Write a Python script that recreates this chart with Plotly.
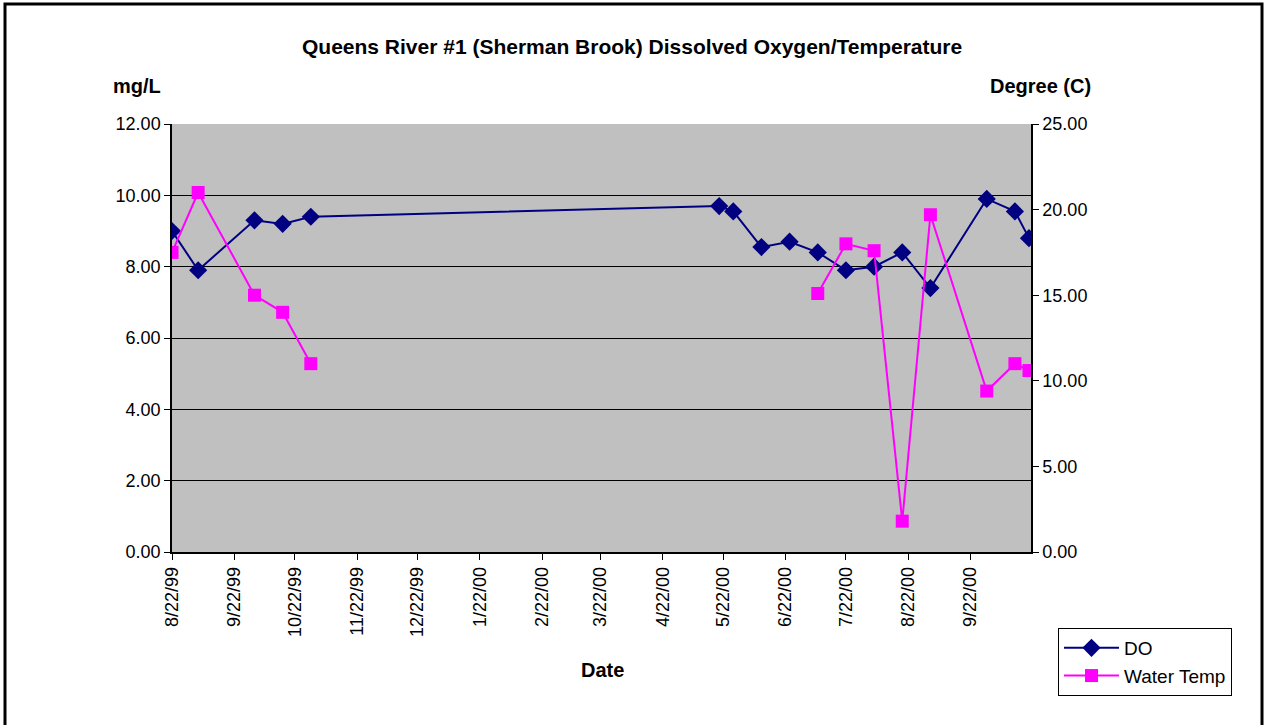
import plotly.graph_objects as go

dates = ["1999-08-22", "1999-09-04", "1999-10-02", "1999-10-16", "1999-10-30",
         "2000-05-20", "2000-05-27", "2000-06-10", "2000-06-24", "2000-07-08",
         "2000-07-22", "2000-08-05", "2000-08-19", "2000-09-02", "2000-09-30",
         "2000-10-14", "2000-10-21"]
do_vals = [9.0, 7.9, 9.3, 9.2, 9.4, 9.7, 9.55, 8.55, 8.7, 8.4, 7.9, 8.0, 8.4, 7.4, 9.9, 9.55, 8.8]
temp_vals = [17.5, 21.0, 15.0, 14.0, 11.0, None, None, None, None, 15.1, 18.0, 17.6, 1.8, 19.7, 9.4, 11.0, 10.6]

tick_dates = ["1999-08-22", "1999-09-22", "1999-10-22", "1999-11-22", "1999-12-22",
              "2000-01-22", "2000-02-22", "2000-03-22", "2000-04-22", "2000-05-22",
              "2000-06-22", "2000-07-22", "2000-08-22", "2000-09-22"]
tick_labels = ["8/22/99", "9/22/99", "10/22/99", "11/22/99", "12/22/99", "1/22/00",
               "2/22/00", "3/22/00", "4/22/00", "5/22/00", "6/22/00", "7/22/00",
               "8/22/00", "9/22/00"]

FONT = "Arial, Liberation Sans, sans-serif"
TICK = 18
BOLD = 20

fig = go.Figure()
fig.add_trace(go.Scatter(
    x=dates, y=do_vals, name="DO", mode="lines+markers",
    line=dict(color="#000080", width=2),
    marker=dict(symbol="diamond", size=14, color="#000080"),
    connectgaps=False,
))
fig.add_trace(go.Scatter(
    x=dates, y=temp_vals, name="Water Temp", mode="lines+markers", yaxis="y2",
    line=dict(color="#FF00FF", width=2),
    marker=dict(symbol="square", size=13, color="#FF00FF"),
    connectgaps=False,
))

fig.update_layout(
    width=1266, height=725,
    margin=dict(l=172, r=235, t=124, b=173),
    paper_bgcolor="white", plot_bgcolor="#C0C0C0",
    font=dict(family=FONT, size=TICK, color="black"),
    showlegend=True,
    legend=dict(
        x=(1058 - 172) / 859, y=(552 - 628) / 428, xanchor="left", yanchor="top",
        bgcolor="white", bordercolor="black", borderwidth=1,
        font=dict(size=19, family=FONT), tracegroupgap=0, itemwidth=55,
    ),
    xaxis=dict(
        type="date", range=["1999-08-22", "2000-10-22"],
        tickmode="array", tickvals=tick_dates, ticktext=tick_labels,
        tickangle=-90, ticks="outside", ticklen=6, tickcolor="black",
        showline=True, linecolor="black", linewidth=1.5,
        showgrid=False, zeroline=False,
        tickfont=dict(size=TICK, family=FONT),
    ),
    yaxis=dict(
        range=[0, 12], dtick=2, tickformat=".2f",
        ticks="outside", ticklen=6, tickcolor="black",
        showline=True, linecolor="black", linewidth=1.5,
        showgrid=True, gridcolor="black", gridwidth=1, zeroline=False,
        tickfont=dict(size=TICK, family=FONT),
    ),
    yaxis2=dict(
        range=[0, 25], dtick=5, tickformat=".2f", overlaying="y", side="right",
        ticks="outside", ticklen=6, tickcolor="black",
        showline=True, linecolor="black", linewidth=1.5,
        showgrid=False, zeroline=False,
        tickfont=dict(size=TICK, family=FONT),
    ),
    annotations=[
        dict(text="<b>Queens River #1 (Sherman Brook) Dissolved Oxygen/Temperature</b>",
             xref="paper", yref="paper", x=(632 - 172) / 859, y=(552 - 47) / 428,
             xanchor="center", yanchor="middle", showarrow=False,
             font=dict(size=21, family=FONT)),
        dict(text="<b>mg/L</b>", xref="paper", yref="paper",
             x=(137 - 172) / 859, y=(552 - 86) / 428,
             xanchor="center", yanchor="middle", showarrow=False,
             font=dict(size=BOLD, family=FONT)),
        dict(text="<b>Degree (C)</b>", xref="paper", yref="paper",
             x=(1040 - 172) / 859, y=(552 - 86) / 428,
             xanchor="center", yanchor="middle", showarrow=False,
             font=dict(size=BOLD, family=FONT)),
        dict(text="<b>Date</b>", xref="paper", yref="paper",
             x=(602 - 172) / 859, y=(552 - 670) / 428,
             xanchor="center", yanchor="middle", showarrow=False,
             font=dict(size=BOLD, family=FONT)),
    ],
    shapes=[
        dict(type="rect", xref="paper", yref="paper",
             x0=(5 - 172) / 859, x1=(1262 - 172) / 859,
             y0=(552 - 740) / 428, y1=(552 - 4) / 428,
             line=dict(color="black", width=3), fillcolor="rgba(0,0,0,0)", layer="below"),
    ],
)

fig.write_html("out.html", config={"displayModeBar": False},
               post_script="document.body.style.margin='0px';")
